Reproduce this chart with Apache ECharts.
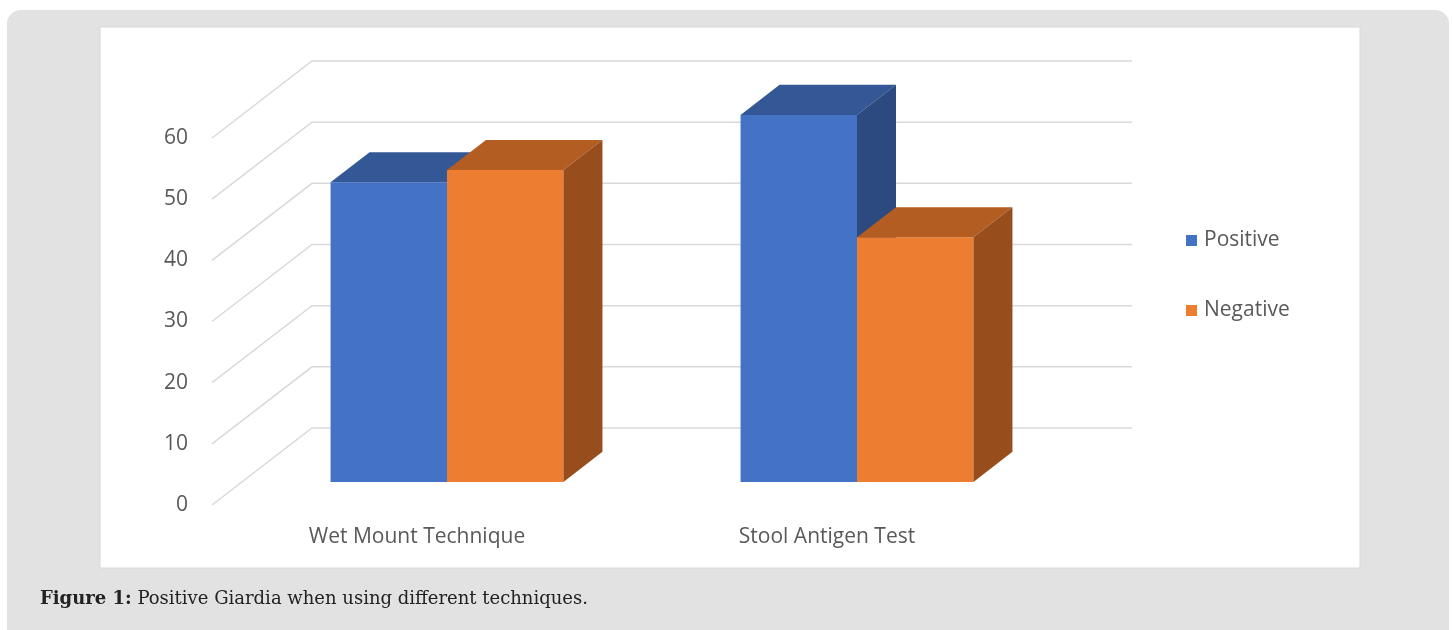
<!DOCTYPE html>
<html><head><meta charset="utf-8">
<script src="https://cdn.jsdelivr.net/npm/echarts/dist/echarts.min.js"></script>
<style>html,body{margin:0;padding:0;background:#fff}#c{width:1452px;height:630px}</style>
</head><body><div id="c"></div>
<script>
const categories = ['Wet Mount Technique', 'Stool Antigen Test'];
const seriesNames = ['Positive', 'Negative'];
const positive = [49, 60];
const negative = [51, 40];
const yTicks = [0, 10, 20, 30, 40, 50, 60];

const DX = 100, DY = -77;      // depth of the back wall (oblique projection)
const F0 = 0.30, F1 = 0.69;    // bar front / back depth fractions
const faceColors = [
  ['#4472C4', '#345896', '#2C4A7F'],
  ['#ED7D31', '#B35D22', '#974D1C']
];

function gridRenderer(params, api) {
  const cs = params.coordSys;
  const y = api.coord([0, api.value(1)])[1];
  const x0 = cs.x, x1 = cs.x + cs.width;
  return {
    type: 'polyline',
    shape: { points: [[x0, y], [x0 + DX, y + DY], [x1 + DX, y + DY]] },
    style: { stroke: '#D9D9D9', lineWidth: 1.5, fill: null }
  };
}

function barRenderer(side) {
  const cols = faceColors[side];
  return function (params, api) {
    const i = api.value(0), v = api.value(1);
    const top = api.coord([i, v]);
    const base = api.coord([i, 0]);
    const band = api.size([1, 0])[0];
    const w = band * 0.284;
    const x0 = (side === 0 ? top[0] - w : top[0]) + F0 * DX;
    const x1 = x0 + w;
    const yt = top[1] + F0 * DY, yb = base[1] + F0 * DY;
    const ddx = (F1 - F0) * DX, ddy = (F1 - F0) * DY;
    return {
      type: 'group',
      children: [
        { type: 'polygon', shape: { points: [[x0, yt], [x1, yt], [x1, yb], [x0, yb]] }, style: { fill: cols[0] } },
        { type: 'polygon', shape: { points: [[x0, yt], [x1, yt], [x1 + ddx, yt + ddy], [x0 + ddx, yt + ddy]] }, style: { fill: cols[1] } },
        { type: 'polygon', shape: { points: [[x1, yt], [x1 + ddx, yt + ddy], [x1 + ddx, yb + ddy], [x1, yb]] }, style: { fill: cols[2] } }
      ]
    };
  };
}

const chart = echarts.init(document.getElementById('c'), null, { renderer: 'canvas' });
chart.setOption({
  animation: false,
  backgroundColor: '#ffffff',
  graphic: [
    { type: 'rect', z: -10, shape: { x: 7, y: 10, width: 1442, height: 650, r: 14 }, style: { fill: '#E2E2E2' } },
    { type: 'rect', z: -9, shape: { x: 100, y: 27, width: 1260, height: 541 }, style: { fill: '#FFFFFF', stroke: '#D8D8D8', lineWidth: 1 } }
  ],
  title: {
    text: '{b|Figure 1:} Positive Giardia when using different techniques.',
    left: 40, top: 590, padding: 0,
    textStyle: {
      fontFamily: 'DejaVu Serif', fontSize: 18, fontWeight: 'normal', color: '#222222',
      rich: { b: { fontFamily: 'DejaVu Serif', fontSize: 18, fontWeight: 'bold', color: '#222222' } }
    }
  },
  legend: {
    data: seriesNames,
    orient: 'vertical',
    left: 1186, top: 230, padding: 0,
    itemWidth: 11, itemHeight: 11, itemGap: 49,
    icon: 'rect',
    textStyle: { fontFamily: 'Open Sans', fontSize: 21, color: '#595959', padding: [0, 0, 0, 2] }
  },
  grid: { left: 212, top: 138, width: 820, height: 367 },
  xAxis: {
    type: 'category', data: categories,
    axisLine: { show: false }, axisTick: { show: false }, splitLine: { show: false },
    axisLabel: { margin: 22, fontFamily: 'Open Sans', fontSize: 21, color: '#595959' }
  },
  yAxis: {
    type: 'value', min: 0, max: 60, interval: 10,
    axisLine: { show: false }, axisTick: { show: false }, splitLine: { show: false },
    axisLabel: { margin: 24, fontFamily: 'Open Sans', fontSize: 21, color: '#595959' }
  },
  series: [
    { type: 'custom', name: 'gridlines', renderItem: gridRenderer, data: yTicks.map(v => [0, v]), encode: { x: 0, y: 1 }, silent: true, z: 1 },
    { type: 'custom', name: seriesNames[0], renderItem: barRenderer(0), itemStyle: { color: faceColors[0][0] }, data: positive.map((v, i) => [i, v]), encode: { x: 0, y: 1 }, z: 2 },
    { type: 'custom', name: seriesNames[1], renderItem: barRenderer(1), itemStyle: { color: faceColors[1][0] }, data: negative.map((v, i) => [i, v]), encode: { x: 0, y: 1 }, z: 3 }
  ]
});
</script>
</body></html>
